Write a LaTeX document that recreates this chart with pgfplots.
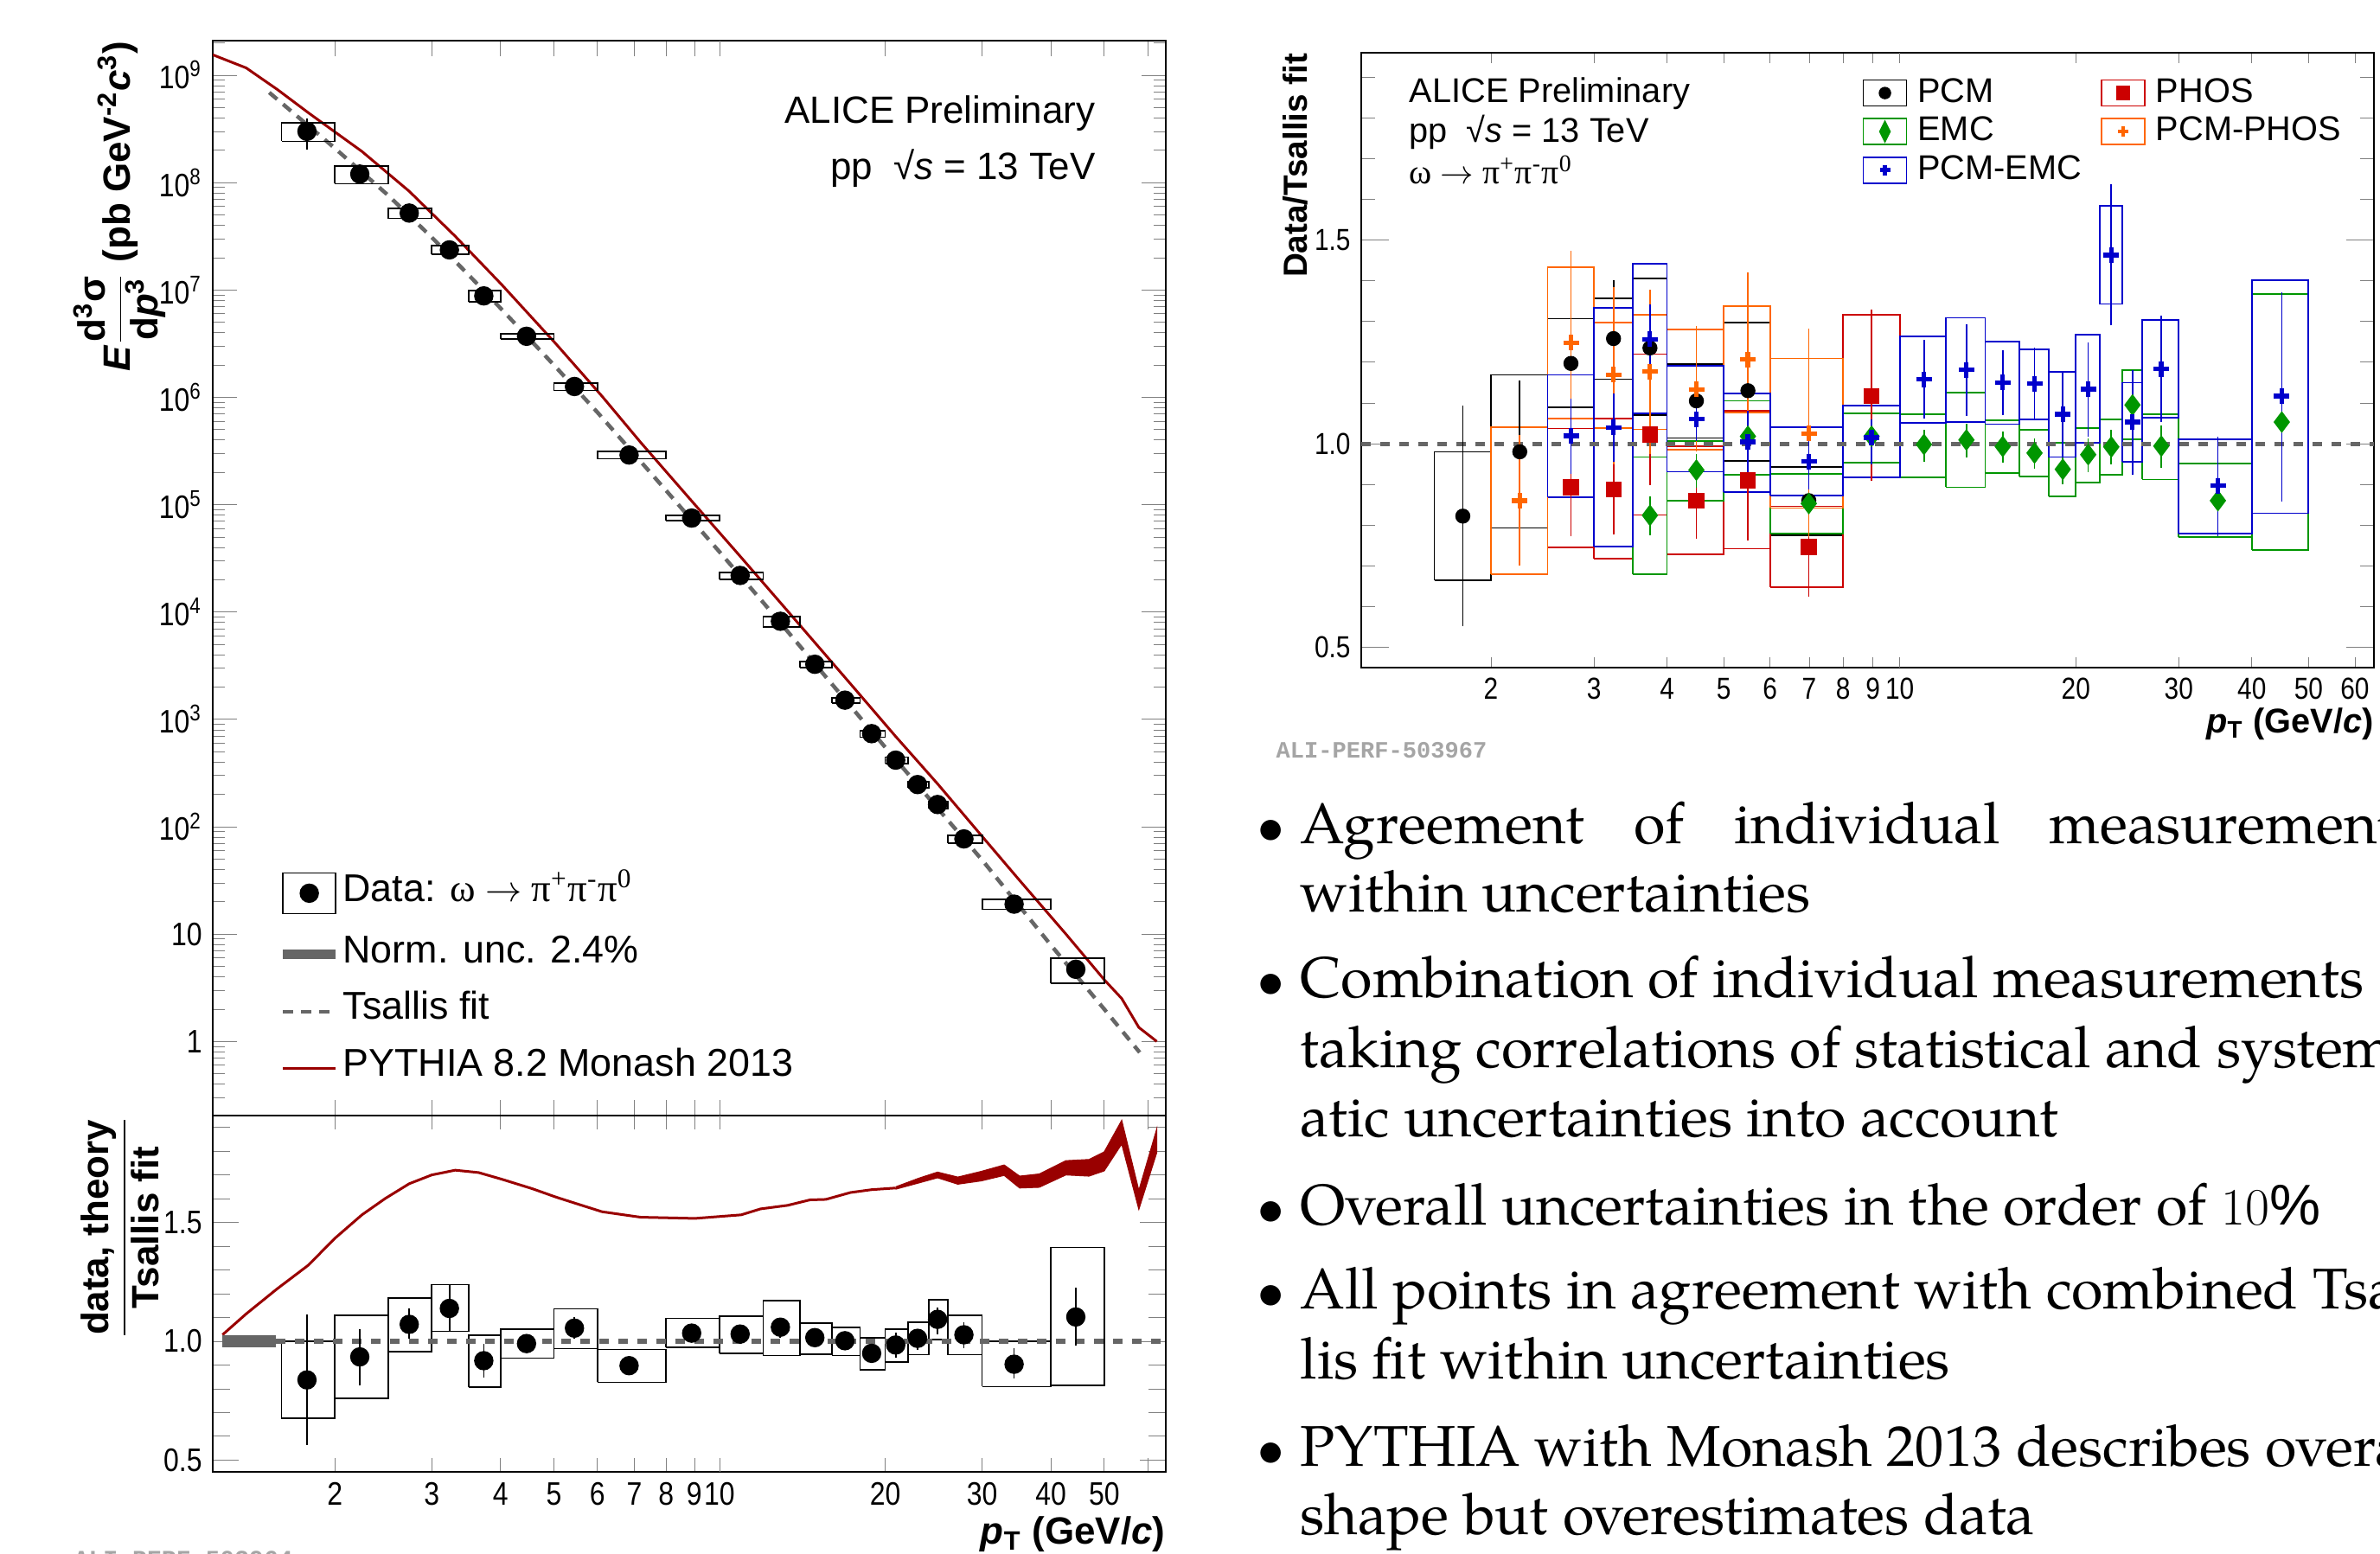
\documentclass[border=0pt]{standalone}
\usepackage{pgfplots}
\pgfplotsset{compat=1.18}
\usepackage{amsmath}
\usepackage{fontspec}
\setmainfont{Liberation Sans}
\newfontfamily\narrowsans[FakeStretch=0.85]{Liberation Sans}
\newfontfamily\symserif{Liberation Serif}
\newfontfamily\slidefont{TeX Gyre Pagella}
\newfontfamily\wmfont{Liberation Mono}

\definecolor{phosred}{RGB}{204,0,0}
\definecolor{emcgreen}{RGB}{0,150,0}
\definecolor{pcmemcblue}{RGB}{0,0,204}
\definecolor{pcmphosorange}{RGB}{255,102,0}
\definecolor{pythia}{RGB}{153,0,0}
\definecolor{fitgray}{RGB}{102,102,102}
\definecolor{wmgray}{RGB}{165,165,165}

\newcommand\lfont{\fontsize{12.5}{15}\selectfont}
\newcommand\legfont{\fontsize{12.75}{15}\selectfont}
\newcommand\rfont{\fontsize{11.3}{13.5}\selectfont}
\newcommand\slidesize{\fontsize{18.9}{23}\selectfont}
\newcommand\decay{{\symserif ω $\rightarrow$ π\textsuperscript{+}π\textsuperscript{-}π\textsuperscript{0}}}
\newcommand\pT{\textbf{\textit{p}\textsubscript{T} (GeV/\textit{c})}}

\begin{document}
\begin{tikzpicture}
\useasboundingbox (0mm,0mm) rectangle (275.2mm,179.6mm);
\clip (0mm,0mm) rectangle (275.2mm,179.6mm);

% ---------------- left: spectrum ----------------
\begin{axis}[
  scale only axis, xmode=log, xmin=1.2, xmax=64.7,
  axis line style={line width=0.75pt},
  xtick pos=both, ytick pos=both, tick align=inside,
  xtick={2,3,4,5,6,7,8,9,20,30,40,50,60}, extra x ticks={10},
  unbounded coords=jump,
  at={(24.6mm,50.6mm)}, anchor=south west,
  width=110.2mm, height=124.3mm,
  ymode=log, ymin=0.204, ymax=2.1e9,
  xticklabels={}, extra x tick labels={},
  xtick style={/pgfplots/major tick length=1.8mm},
  extra x tick style={/pgfplots/major tick length=3.5mm},
  ytick={1,10,100,1000,1e4,1e5,1e6,1e7,1e8,1e9},
  yticklabels={1,10,10\textsuperscript{2},10\textsuperscript{3},10\textsuperscript{4},10\textsuperscript{5},10\textsuperscript{6},10\textsuperscript{7},10\textsuperscript{8},10\textsuperscript{9}},
  minor ytick={0.3,0.4,0.5,0.6,0.7,0.8,0.9,2,3,4,5,6,7,8,9,20,30,40,50,60,70,80,90,200,300,400,500,600,700,800,900,2000,3000,4000,5000,6000,7000,8000,9000,2e4,3e4,4e4,5e4,6e4,7e4,8e4,9e4,2e5,3e5,4e5,5e5,6e5,7e5,8e5,9e5,2e6,3e6,4e6,5e6,6e6,7e6,8e6,9e6,2e7,3e7,4e7,5e7,6e7,7e7,8e7,9e7,2e8,3e8,4e8,5e8,6e8,7e8,8e8,9e8,2e9},
  ytick style={/pgfplots/major tick length=2.8mm},
  minor tick length=1.4mm,
  tick label style={font=\fontsize{10.7}{12}\selectfont\narrowsans},
  ylabel={\textit{E}$\dfrac{\text{d\textsuperscript{3}σ}}{\text{d\textit{p}\textsuperscript{3}}}$ (pb GeV\textsuperscript{-2}\textit{c}\textsuperscript{3})},
  ylabel style={at={(rel axis cs:-0.049,1)}, anchor=south east, inner sep=0pt, font=\bfseries\lfont},
  legend style={draw=none, fill=none, at={(0.068,0.227)}, anchor=north west, inner sep=0pt,
    row sep=2.75mm, column sep=0mm, font=\legfont,
    nodes={inner sep=0.3mm, text height=0.72em, text depth=0.2em}},
  legend cell align=left,
]
\addplot[forget plot, pythia, line width=0.3mm] coordinates {
(1.2,1.55e9)(1.38,1.17e9)(1.57,7.4e8)(1.79,4.47e8)(2.24,1.95e8)(2.73,8.3e7)(3.31,3.16e7)(4.02,1.12e7)(5.04,3.16e6)(6.12,1.02e6)(7.19,3.8e5)(9.02,1.0e5)(10.77,3.55e4)(13.3,1.02e4)(17.3,2140)(20.9,692)(24.9,251)(29.9,83)(35.1,31.6)(42.6,10)(50,3.76)(53.8,2.51)(57.8,1.35)(62.3,1.0)};
\addplot[forget plot, fitgray, line width=0.45mm, dash pattern=on 1.2mm off 0.9mm] coordinates {
(1.52,6.9e8)(2,2.09e8)(2.5,7.6e7)(3,3.09e7)(3.5,1.38e7)(4,6.76e6)(5,2.0e6)(6,7.24e5)(7,2.95e5)(8,1.35e5)(10,3.63e4)(12,1.23e4)(15,3160)(20,550)(25,145)(30,49)(40,7.9)(50,2.0)(58,0.79)};
\addplot[forget plot, black, line width=0.5pt] coordinates {
(1.6,2.42e8)(2,2.42e8)(2,3.58e8)(1.6,3.58e8)(1.6,2.42e8)(2,nan)
(2,9.75e7)(2.5,9.75e7)(2.5,1.42e8)(2,1.42e8)(2,9.75e7)(2.5,nan)
(2.5,4.64e7)(3,4.64e7)(3,5.74e7)(2.5,5.74e7)(2.5,4.64e7)(3,nan)
(3,2.16e7)(3.5,2.16e7)(3.5,2.57e7)(3,2.57e7)(3,2.16e7)(3.5,nan)
(3.5,7.74e6)(4,7.74e6)(4,9.83e6)(3.5,9.83e6)(3.5,7.74e6)(4,nan)
(4,3.47e6)(5,3.47e6)(5,3.93e6)(4,3.93e6)(4,3.47e6)(5,nan)
(5,1.157e6)(6,1.157e6)(6,1.357e6)(5,1.357e6)(5,1.157e6)(6,nan)
(6,2.67e5)(8,2.67e5)(8,3.12e5)(6,3.12e5)(6,2.67e5)(8,nan)
(8,7.06e4)(10,7.06e4)(10,7.95e4)(8,7.95e4)(8,7.06e4)(10,nan)
(10,2.02e4)(12,2.02e4)(12,2.35e4)(10,2.35e4)(10,2.02e4)(12,nan)
(12,7280)(14,7280)(14,9060)(12,9060)(12,7280)(14,nan)
(14,3040)(16,3040)(16,3460)(14,3460)(14,3040)(16,nan)
(16,1416)(18,1416)(18,1596)(16,1596)(16,1416)(18,nan)
(18,682)(20,682)(20,787)(18,787)(18,682)(20,nan)
(20,386)(22,386)(22,446)(20,446)(20,386)(22,nan)
(22,230)(24,230)(24,264)(22,264)(22,230)(24,nan)
(24,148)(26,148)(26,173)(24,173)(24,148)(26,nan)
(26,70.7)(30,70.7)(30,83.1)(26,83.1)(26,70.7)(30,nan)
(30,17.0)(40,17.0)(40,21.0)(30,21.0)(30,17.0)(40,nan)
(40,3.47)(50,3.47)(50,5.95)(40,5.95)(40,3.47)};
\addplot[forget plot, black, line width=0.5pt] coordinates {
(1.78,2.01e8)(1.78,3.98e8)(1.78,nan)(2.22,1.04e8)(2.22,1.35e8)(2.22,nan)
(2.73,4.90e7)(2.73,5.52e7)(2.73,nan)(3.23,2.16e7)(3.23,2.57e7)(3.23,nan)
(3.73,8.12e6)(3.73,9.49e6)};
\addplot[forget plot, only marks, mark=*, mark size=1.05mm, black] coordinates {
(1.78,3.0e8)(2.22,1.2e8)(2.73,5.2e7)(3.23,2.36e7)(3.73,8.8e6)(4.46,3.7e6)(5.45,1.26e6)(6.85,2.9e5)(8.9,7.5e4)(10.9,2.19e4)(12.9,8200)(14.9,3260)(16.9,1510)(18.9,736)(20.9,417)(22.9,247)(24.9,161)(27.8,77)(34.3,19)(44.4,4.7)};

\addlegendimage{legend image code/.code={\draw[black,line width=0.5pt] (0mm,-2.35mm) rectangle (6.1mm,2.35mm); \fill[black] (3.05mm,0mm) circle (1.05mm);}}
\addlegendentry{Data: \decay}
\addlegendimage{legend image code/.code={\draw[fitgray,line width=1.1mm] (0mm,0mm) -- (6.1mm,0mm);}}
\addlegendentry{Norm. unc. 2.4\%}
\addlegendimage{legend image code/.code={\draw[fitgray,line width=0.45mm,dash pattern=on 1.2mm off 0.9mm] (0mm,0mm) -- (6.1mm,0mm);}}
\addlegendentry{Tsallis fit}
\addlegendimage{legend image code/.code={\draw[pythia,line width=0.3mm] (0mm,0mm) -- (6.1mm,0mm);}}
\addlegendentry{PYTHIA 8.2 Monash 2013}

\node[anchor=east, inner sep=0pt, font=\lfont] at (rel axis cs:0.9265,0.932) {ALICE Preliminary};
\node[anchor=east, inner sep=0pt, font=\lfont] at (rel axis cs:0.9265,0.881) {pp\ \ √\textit{s} = 13 TeV};
\end{axis}

% ---------------- left: ratio ----------------
\begin{axis}[
  scale only axis, xmode=log, xmin=1.2, xmax=64.7,
  axis line style={line width=0.75pt},
  xtick pos=both, ytick pos=both, tick align=inside,
  xtick={2,3,4,5,6,7,8,9,20,30,40,50,60}, extra x ticks={10},
  unbounded coords=jump,
  at={(24.6mm,9.4mm)}, anchor=south west,
  width=110.2mm, height=41.2mm,
  ymin=0.45, ymax=1.95,
  ytick={0.5,1,1.5}, yticklabels={0.5,1.0,1.5},
  minor ytick={0.6,0.7,0.8,0.9,1.1,1.2,1.3,1.4,1.6,1.7,1.8,1.9},
  xticklabels={2,3,4,5,6,7,8,9,20,30,40,50,{}}, extra x tick labels={10},
  xtick style={/pgfplots/major tick length=1.6mm},
  extra x tick style={/pgfplots/major tick length=3.3mm},
  ytick style={/pgfplots/major tick length=3mm},
  minor tick length=2mm,
  tick label style={font=\fontsize{10.7}{12}\selectfont\narrowsans},
  xlabel={\pT}, xlabel style={at={(rel axis cs:1,-0.124)}, anchor=north east, inner sep=0pt, font=\lfont},
  ylabel={$\dfrac{\text{data, theory}}{\text{Tsallis fit}}$},
  ylabel style={at={(rel axis cs:-0.056,1)}, anchor=south east, inner sep=0pt, font=\bfseries\lfont},
]
\addplot[pythia, line width=0.3mm] coordinates {
(1.25,1.027)(1.38,1.115)(1.57,1.22)(1.79,1.32)(2.0,1.433)(2.24,1.532)(2.47,1.601)(2.73,1.663)(3.0,1.70)(3.31,1.72)(3.65,1.71)(4.02,1.682)(4.57,1.642)(5.04,1.607)(5.55,1.576)(6.12,1.545)(7.19,1.522)(9.02,1.517)(10.95,1.532)(11.87,1.557)(13.3,1.572)(14.6,1.595)(15.6,1.597)(17.3,1.626)(18.9,1.638)(20.9,1.645)};
\addplot[pythia, fill=pythia, line width=0.3pt] coordinates {
(20.9,1.650)(23.0,1.686)(24.9,1.712)(27.1,1.691)(29.9,1.715)(32.9,1.742)(35.1,1.695)(38.1,1.704)(42.6,1.76)(46.9,1.765)(50.0,1.797)(53.8,1.93)(57.8,1.635)(62.3,1.894)
(62.3,1.794)(57.8,1.555)(53.8,1.83)(50.0,1.717)(46.9,1.695)(42.6,1.70)(38.1,1.648)(35.1,1.645)(32.9,1.698)(29.9,1.675)(27.1,1.661)(24.9,1.688)(23.0,1.666)(20.9,1.640)};
\addplot[fill=fitgray, draw=none] coordinates {(1.25,0.976)(1.56,0.976)(1.56,1.024)(1.25,1.024)};
\addplot[black, line width=0.5pt] coordinates {
(1.6,0.676)(2,0.676)(2,1.0)(1.6,1.0)(1.6,0.676)(2,nan)
(2,0.759)(2.5,0.759)(2.5,1.108)(2,1.108)(2,0.759)(2.5,nan)
(2.5,0.956)(3,0.956)(3,1.183)(2.5,1.183)(2.5,0.956)(3,nan)
(3,1.042)(3.5,1.042)(3.5,1.238)(3,1.238)(3,1.042)(3.5,nan)
(3.5,0.808)(4,0.808)(4,1.025)(3.5,1.025)(3.5,0.808)(4,nan)
(4,0.929)(5,0.929)(5,1.05)(4,1.05)(4,0.929)(5,nan)
(5,0.969)(6,0.969)(6,1.136)(5,1.136)(5,0.969)(6,nan)
(6,0.827)(8,0.827)(8,0.965)(6,0.965)(6,0.827)(8,nan)
(8,0.974)(10,0.974)(10,1.096)(8,1.096)(8,0.974)(10,nan)
(10,0.95)(12,0.95)(12,1.106)(10,1.106)(10,0.95)(12,nan)
(12,0.94)(14,0.94)(14,1.17)(12,1.17)(12,0.94)(14,nan)
(14,0.946)(16,0.946)(16,1.077)(14,1.077)(14,0.946)(16,nan)
(16,0.94)(18,0.94)(18,1.059)(16,1.059)(16,0.94)(18,nan)
(18,0.88)(20,0.88)(20,1.015)(18,1.015)(18,0.88)(20,nan)
(20,0.911)(22,0.911)(22,1.052)(20,1.052)(20,0.911)(22,nan)
(22,0.943)(24,0.943)(24,1.081)(22,1.081)(22,0.943)(24,nan)
(24,1.006)(26,1.006)(26,1.175)(24,1.175)(24,1.006)(26,nan)
(26,0.943)(30,0.943)(30,1.108)(26,1.108)(26,0.943)(30,nan)
(30,0.809)(40,0.809)(40,1.0)(30,1.0)(30,0.809)(40,nan)
(40,0.813)(50,0.813)(50,1.395)(40,1.395)(40,0.813)};
\addplot[fitgray, line width=0.55mm, dash pattern=on 1.1mm off 1.1mm] coordinates {(1.56,1)(64.7,1)};
\addplot[black, line width=0.5pt] coordinates {
(1.78,0.562)(1.78,1.111)(1.78,nan)(2.22,0.813)(2.22,1.052)(2.22,nan)(2.73,1.009)(2.73,1.137)(2.73,nan)
(3.23,1.042)(3.23,1.238)(3.23,nan)(3.73,0.847)(3.73,0.99)(3.73,nan)(4.46,0.95)(4.46,1.03)(4.46,nan)
(5.45,1.01)(5.45,1.10)(5.45,nan)(6.85,0.885)(6.85,0.91)(6.85,nan)(8.9,0.995)(8.9,1.07)(8.9,nan)
(10.9,0.99)(10.9,1.065)(10.9,nan)(12.9,1.015)(12.9,1.096)(12.9,nan)(14.9,0.98)(14.9,1.045)(14.9,nan)
(16.9,0.97)(16.9,1.035)(16.9,nan)(18.9,0.915)(18.9,0.98)(18.9,nan)(20.9,0.93)(20.9,1.035)(20.9,nan)
(22.9,0.965)(22.9,1.046)(22.9,nan)(24.9,1.03)(24.9,1.14)(24.9,nan)(27.8,0.97)(27.8,1.08)(27.8,nan)
(34.3,0.845)(34.3,0.97)(34.3,nan)(44.4,0.98)(44.4,1.225)};
\addplot[only marks, mark=*, mark size=1.05mm, black] coordinates {
(1.78,0.837)(2.22,0.934)(2.73,1.071)(3.23,1.138)(3.73,0.918)(4.46,0.99)(5.45,1.055)(6.85,0.897)(8.9,1.034)(10.9,1.03)(12.9,1.059)(14.9,1.015)(16.9,1.002)(18.9,0.949)(20.9,0.984)(22.9,1.012)(24.9,1.092)(27.8,1.027)(34.3,0.903)(44.4,1.102)};
\end{axis}

% ---------------- right: individual methods ----------------
\begin{axis}[
  scale only axis, xmode=log, xmin=1.2, xmax=64.7,
  axis line style={line width=0.75pt},
  xtick pos=both, ytick pos=both, tick align=inside,
  xtick={2,3,4,5,6,7,8,9,20,30,40,50,60}, extra x ticks={10},
  unbounded coords=jump,
  at={(157.4mm,102.4mm)}, anchor=south west,
  width=117.1mm, height=71.1mm,
  ymin=0.45, ymax=1.96,
  ytick={0.5,1,1.5}, yticklabels={0.5,1.0,1.5},
  minor ytick={0.6,0.7,0.8,0.9,1.1,1.2,1.3,1.4,1.6,1.7,1.8,1.9},
  xticklabels={2,3,4,5,6,7,8,9,20,30,40,50,60}, extra x tick labels={10},
  xtick style={/pgfplots/major tick length=1.2mm},
  extra x tick style={/pgfplots/major tick length=2.4mm},
  ytick style={/pgfplots/major tick length=3.2mm},
  minor tick length=1.6mm,
  tick label style={font=\fontsize{10}{12}\selectfont\narrowsans},
  xlabel={\pT}, xlabel style={at={(rel axis cs:1,-0.065)}, anchor=north east, inner sep=0pt, font=\rfont},
  ylabel={\textbf{Data/Tsallis fit}},
  ylabel style={at={(rel axis cs:-0.052,1)}, anchor=south east, inner sep=0pt, font=\bfseries\fontsize{11}{13}\selectfont},
  legend columns=2,
  legend style={draw=none, fill=none, at={(0.4944,0.959)}, anchor=north west, inner sep=0pt,
    row sep=1.1mm, column sep=1mm, font=\rfont,
    /tikz/every even column/.append style={column sep=2mm},
    nodes={inner sep=0.2mm, text height=0.72em, text depth=0.12em}},
  legend cell align=left,
]
\addplot[forget plot, black, line width=0.5pt] coordinates {
(1.6,0.664)(2,0.664)(2,0.98)(1.6,0.98)(1.6,0.664)(2,nan)
(2,0.793)(2.5,0.793)(2.5,1.169)(2,1.169)(2,0.793)(2.5,nan)
(2.5,1.089)(3,1.089)(3,1.307)(2.5,1.307)(2.5,1.089)(3,nan)
(3,1.158)(3.5,1.158)(3.5,1.357)(3,1.357)(3,1.158)(3.5,nan)
(3.5,1.07)(4,1.07)(4,1.406)(3.5,1.406)(3.5,1.07)(4,nan)
(4,1.014)(5,1.014)(5,1.195)(4,1.195)(4,1.014)(5,nan)
(5,0.958)(6,0.958)(6,1.298)(5,1.298)(5,0.958)(6,nan)
(6,0.775)(8,0.775)(8,0.942)(6,0.942)(6,0.775)};
\addplot[forget plot, phosred, line width=0.5pt] coordinates {
(2.5,0.745)(3,0.745)(3,1.037)(2.5,1.037)(2.5,0.745)(3,nan)
(3,0.717)(3.5,0.717)(3.5,1.061)(3,1.061)(3,0.717)(3.5,nan)
(3.5,0.825)(4,0.825)(4,1.22)(3.5,1.22)(3.5,0.825)(4,nan)
(4,0.728)(5,0.728)(5,0.993)(4,0.993)(4,0.728)(5,nan)
(5,0.742)(6,0.742)(6,1.081)(5,1.081)(5,0.742)(6,nan)
(6,0.647)(8,0.647)(8,0.846)(6,0.846)(6,0.647)(8,nan)
(8,0.918)(10,0.918)(10,1.317)(8,1.317)(8,0.918)};
\addplot[forget plot, emcgreen, line width=0.5pt] coordinates {
(3.5,0.68)(4,0.68)(4,0.967)(3.5,0.967)(3.5,0.68)(4,nan)
(4,0.86)(5,0.86)(5,1.007)(4,1.007)(4,0.86)(5,nan)
(5,0.923)(6,0.923)(6,1.105)(5,1.105)(5,0.923)(6,nan)
(6,0.779)(8,0.779)(8,0.925)(6,0.925)(6,0.779)(8,nan)
(8,0.954)(10,0.954)(10,1.075)(8,1.075)(8,0.954)(10,nan)
(10,0.918)(12,0.918)(12,1.072)(10,1.072)(10,0.918)(12,nan)
(12,0.893)(14,0.893)(14,1.125)(12,1.125)(12,0.893)(14,nan)
(14,0.928)(16,0.928)(16,1.058)(14,1.058)(14,0.928)(16,nan)
(16,0.919)(18,0.919)(18,1.034)(16,1.034)(16,0.919)(18,nan)
(18,0.87)(20,0.87)(20,1.002)(18,1.002)(18,0.87)(20,nan)
(20,0.904)(22,0.904)(22,1.039)(20,1.039)(20,0.904)(22,nan)
(22,0.923)(24,0.923)(24,1.06)(22,1.06)(22,0.923)(24,nan)
(24,1.011)(26,1.011)(26,1.18)(24,1.18)(24,1.011)(26,nan)
(26,0.912)(30,0.912)(30,1.073)(26,1.073)(26,0.912)(30,nan)
(30,0.77)(40,0.77)(40,0.951)(30,0.951)(30,0.77)(40,nan)
(40,0.739)(50,0.739)(50,1.367)(40,1.367)(40,0.739)};
\addplot[forget plot, pcmphosorange, line width=0.5pt] coordinates {
(2,0.68)(2.5,0.68)(2.5,1.041)(2,1.041)(2,0.68)(2.5,nan)
(2.5,1.061)(3,1.061)(3,1.433)(2.5,1.433)(2.5,1.061)(3,nan)
(3,1.038)(3.5,1.038)(3.5,1.298)(3,1.298)(3,1.038)(3.5,nan)
(3.5,1.035)(4,1.035)(4,1.316)(3.5,1.316)(3.5,1.035)(4,nan)
(4,0.985)(5,0.985)(5,1.281)(4,1.281)(4,0.985)(5,nan)
(5,1.077)(6,1.077)(6,1.338)(5,1.338)(5,1.077)(6,nan)
(6,0.842)(8,0.842)(8,1.209)(6,1.209)(6,0.842)};
\addplot[forget plot, pcmemcblue, line width=0.5pt] coordinates {
(2.5,0.868)(3,0.868)(3,1.169)(2.5,1.169)(2.5,0.868)(3,nan)
(3,0.747)(3.5,0.747)(3.5,1.333)(3,1.333)(3,0.747)(3.5,nan)
(3.5,1.074)(4,1.074)(4,1.442)(3.5,1.442)(3.5,1.074)(4,nan)
(4,0.931)(5,0.931)(5,1.191)(4,1.191)(4,0.931)(5,nan)
(5,0.881)(6,0.881)(6,1.123)(5,1.123)(5,0.881)(6,nan)
(6,0.872)(8,0.872)(8,1.041)(6,1.041)(6,0.872)(8,nan)
(8,0.918)(10,0.918)(10,1.093)(8,1.093)(8,0.918)(10,nan)
(10,1.051)(12,1.051)(12,1.263)(10,1.263)(10,1.051)(12,nan)
(12,1.053)(14,1.053)(14,1.309)(12,1.309)(12,1.053)(14,nan)
(14,1.048)(16,1.048)(16,1.25)(14,1.25)(14,1.048)(16,nan)
(16,1.06)(18,1.06)(18,1.232)(16,1.232)(16,1.06)(18,nan)
(18,0.967)(20,0.967)(20,1.177)(18,1.177)(18,0.967)(20,nan)
(20,1.002)(22,1.002)(22,1.267)(20,1.267)(20,1.002)(22,nan)
(22,1.343)(24,1.343)(24,1.584)(22,1.584)(22,1.343)(24,nan)
(24,0.956)(26,0.956)(26,1.15)(24,1.15)(24,0.956)(26,nan)
(26,1.063)(30,1.063)(30,1.303)(26,1.303)(26,1.063)(30,nan)
(30,0.779)(40,0.779)(40,1.011)(30,1.011)(30,0.779)(40,nan)
(40,0.829)(50,0.829)(50,1.401)(40,1.401)(40,0.829)};
\addplot[forget plot, fitgray, line width=0.5mm, dash pattern=on 1.1mm off 1.1mm] coordinates {(1.2,1)(64.7,1)};
\addplot[forget plot, black, line width=0.5pt] coordinates {
(1.79,0.551)(1.79,1.093)(1.79,nan)(2.24,0.81)(2.24,1.154)(2.24,nan)(2.74,1.065)(2.74,1.33)(2.74,nan)
(3.24,1.11)(3.24,1.402)(3.24,nan)(3.74,1.16)(3.74,1.31)(3.74,nan)(4.49,1.055)(4.49,1.155)(4.49,nan)
(5.5,1.08)(5.5,1.18)(5.5,nan)(6.99,0.84)(6.99,0.88)};
\addplot[forget plot, phosred, line width=0.5pt] coordinates {
(2.74,0.772)(2.74,0.99)(2.74,nan)(3.24,0.777)(3.24,1.0)(3.24,nan)(3.74,0.898)(3.74,1.123)(3.74,nan)
(4.49,0.766)(4.49,0.97)(4.49,nan)(5.5,0.763)(5.5,1.0)(5.5,nan)(6.99,0.624)(6.99,0.87)(6.99,nan)
(8.95,0.909)(8.95,1.329)};
\addplot[forget plot, emcgreen, line width=0.5pt] coordinates {
(3.74,0.775)(3.74,0.871)(3.74,nan)(4.49,0.891)(4.49,0.975)(4.49,nan)(5.5,0.97)(5.5,1.06)(5.5,nan)
(6.99,0.82)(6.99,0.9)(6.99,nan)(8.95,0.97)(8.95,1.06)(8.95,nan)(11,0.956)(11,1.034)(11,nan)
(13,0.967)(13,1.048)(13,nan)(15,0.954)(15,1.029)(15,nan)(17,0.939)(17,1.013)(17,nan)
(19,0.9)(19,0.967)(19,nan)(21,0.93)(21,1.013)(21,nan)(23,0.95)(23,1.035)(23,nan)
(25,1.05)(25,1.14)(25,nan)(28,0.94)(28,1.045)(28,nan)(35,0.8)(35,0.92)(35,nan)(45,0.935)(45,1.171)};
\addplot[forget plot, pcmphosorange, line width=0.5pt] coordinates {
(2.24,0.7)(2.24,1.021)(2.24,nan)(2.74,1.02)(2.74,1.474)(2.74,nan)(3.24,0.95)(3.24,1.384)(3.24,nan)
(3.74,0.975)(3.74,1.377)(3.74,nan)(4.49,0.98)(4.49,1.288)(4.49,nan)(5.5,1.0)(5.5,1.421)(5.5,nan)
(6.99,0.77)(6.99,1.283)};
\addplot[forget plot, pcmemcblue, line width=0.5pt] coordinates {
(2.74,0.926)(2.74,1.11)(2.74,nan)(3.24,0.956)(3.24,1.123)(3.24,nan)(3.74,1.172)(3.74,1.341)(3.74,nan)
(4.49,1.007)(4.49,1.116)(4.49,nan)(5.5,0.923)(5.5,1.08)(5.5,nan)(6.99,0.888)(6.99,1.025)(6.99,nan)
(8.95,0.95)(8.95,1.06)(8.95,nan)(11,1.062)(11,1.254)(11,nan)(13,1.067)(13,1.294)(13,nan)
(15,1.07)(15,1.23)(15,nan)(17,1.057)(17,1.235)(17,nan)(19,0.967)(19,1.178)(19,nan)
(21,1.018)(21,1.249)(21,nan)(23,1.29)(23,1.637)(23,nan)(25,0.923)(25,1.181)(25,nan)
(28,1.053)(28,1.315)(28,nan)(35,0.772)(35,1.018)(35,nan)(45,0.858)(45,1.371)};
\addplot[forget plot, only marks, mark=*, mark size=0.8mm, black] coordinates {
(1.79,0.822)(2.24,0.98)(2.74,1.197)(3.24,1.258)(3.74,1.235)(4.49,1.105)(5.5,1.13)(6.99,0.86)};
\addplot[forget plot, only marks, mark=square*, mark size=0.85mm, phosred] coordinates {
(2.74,0.893)(3.24,0.888)(3.74,1.022)(4.49,0.86)(5.5,0.91)(6.99,0.746)(8.95,1.117)};
\addplot[forget plot, only marks, mark=diamond*, mark size=1.15mm, emcgreen] coordinates {
(3.74,0.824)(4.49,0.935)(5.5,1.018)(6.99,0.853)(8.95,1.018)(11,0.998)(13,1.009)(15,0.993)(17,0.977)(19,0.937)(21,0.973)(23,0.992)(25,1.095)(28,0.994)(35,0.86)(45,1.053)};
\addplot[forget plot, only marks, mark=+, mark size=0.9mm, pcmphosorange, mark options={line width=1.5pt}] coordinates {
(2.24,0.86)(2.74,1.248)(3.24,1.169)(3.74,1.177)(4.49,1.133)(5.5,1.207)(6.99,1.025)};
\addplot[forget plot, only marks, mark=+, mark size=0.9mm, pcmemcblue, mark options={line width=1.5pt}] coordinates {
(2.74,1.019)(3.24,1.04)(3.74,1.256)(4.49,1.06)(5.5,1.004)(6.99,0.956)(8.95,1.015)(11,1.158)(13,1.181)(15,1.15)(17,1.147)(19,1.072)(21,1.134)(23,1.463)(25,1.053)(28,1.183)(35,0.897)(45,1.117)};

\addlegendimage{legend image code/.code={\draw[black,line width=0.5pt] (0mm,-1.5mm) rectangle (5mm,1.5mm); \fill[black] (2.5mm,0mm) circle (0.65mm);}}
\addlegendentry{PCM}
\addlegendimage{legend image code/.code={\draw[phosred,line width=0.5pt] (0mm,-1.5mm) rectangle (5mm,1.5mm); \fill[phosred] (1.8mm,-0.75mm) rectangle (3.2mm,0.75mm);}}
\addlegendentry{PHOS}
\addlegendimage{legend image code/.code={\draw[emcgreen,line width=0.5pt] (0mm,-1.5mm) rectangle (5mm,1.5mm); \fill[emcgreen] (2.5mm,1.2mm) -- (3.1mm,0mm) -- (2.5mm,-1.2mm) -- (1.9mm,0mm) -- cycle;}}
\addlegendentry{EMC}
\addlegendimage{legend image code/.code={\draw[pcmphosorange,line width=0.5pt] (0mm,-1.5mm) rectangle (5mm,1.5mm); \draw[pcmphosorange,line width=1.3pt] (1.9mm,0mm) -- (3.1mm,0mm) (2.5mm,-0.6mm) -- (2.5mm,0.6mm);}}
\addlegendentry{PCM-PHOS}
\addlegendimage{legend image code/.code={\draw[pcmemcblue,line width=0.5pt] (0mm,-1.5mm) rectangle (5mm,1.5mm); \draw[pcmemcblue,line width=1.3pt] (1.9mm,0mm) -- (3.1mm,0mm) (2.5mm,-0.6mm) -- (2.5mm,0.6mm);}}
\addlegendentry{PCM-EMC}

\node[anchor=west, inner sep=0pt, font=\rfont] at (rel axis cs:0.047,0.933) {ALICE Preliminary};
\node[anchor=west, inner sep=0pt, font=\rfont] at (rel axis cs:0.047,0.871) {pp\ \ √\textit{s} = 13 TeV};
\node[anchor=west, inner sep=0pt, font=\rfont] at (rel axis cs:0.047,0.809) {\decay};
\end{axis}

\node[anchor=base west, inner sep=0pt, text=wmgray, font=\wmfont\bfseries\fontsize{7.7}{9}\selectfont] at (147.5mm,91.9mm) {ALI-PERF-503967};
\node[anchor=base west, inner sep=0pt, text=wmgray, font=\wmfont\bfseries\fontsize{8}{9}\selectfont] at (8.5mm,-1.6mm) {ALI-PERF-503964};

\begin{scope}[every node/.style={anchor=base west, inner sep=0pt, font=\slidefont\slidesize}]
\node at (150.3mm,82.0mm) {\makebox[129.5mm][s]{Agreement of individual measurements}};
\node at (150.3mm,74.1mm) {within uncertainties};
\node at (150.3mm,64.2mm) {Combination of individual measurements};
\node at (150.3mm,56.1mm) {taking correlations of statistical and system-};
\node at (150.3mm,48.1mm) {atic uncertainties into account};
\node at (150.3mm,37.9mm) {Overall uncertainties in the order of $10\%$};
\node at (150.3mm,28.2mm) {All points in agreement with combined Tsal-};
\node at (150.3mm,20.1mm) {lis fit within uncertainties};
\node at (150.3mm,10.1mm) {PYTHIA with Monash 2013 describes overall};
\node at (150.3mm,2.2mm) {shape but overestimates data};
\end{scope}
\begin{scope}[every node/.style={anchor=base, inner sep=0pt, font=\slidesize}]
\node at (147.0mm,82.0mm) {$\bullet$};
\node at (147.0mm,64.2mm) {$\bullet$};
\node at (147.0mm,37.9mm) {$\bullet$};
\node at (147.0mm,28.2mm) {$\bullet$};
\node at (147.0mm,10.1mm) {$\bullet$};
\end{scope}
\end{tikzpicture}
\end{document}
